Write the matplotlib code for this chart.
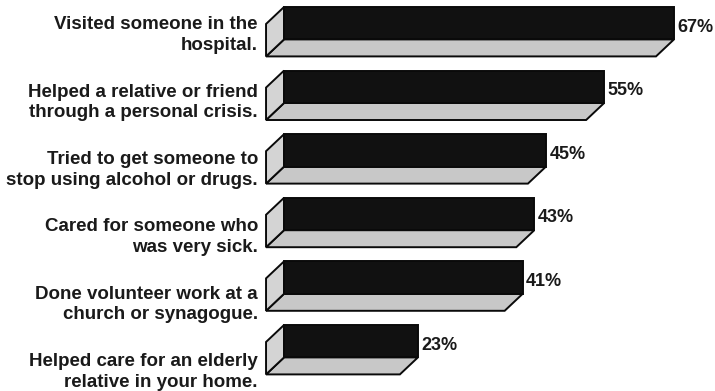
import matplotlib
matplotlib.use("Agg")
import matplotlib.pyplot as plt
from matplotlib.patches import Polygon

# --- data ---
categories = [
    "Visited someone in the\nhospital.",
    "Helped a relative or friend\nthrough a personal crisis.",
    "Tried to get someone to\nstop using alcohol or drugs.",
    "Cared for someone who\nwas very sick.",
    "Done volunteer work at a\nchurch or synagogue.",
    "Helped care for an elderly\nrelative in your home.",
]
values = [67, 55, 45, 43, 41, 23]
value_labels = ["67%", "55%", "45%", "43%", "41%", "23%"]

# --- styling ---
FRONT = "#111111"
FLOOR = "#c8c8c8"
SIDE = "#d4d4d4"
EDGE = "#0a0a0a"
LW = 1.4
FONT = ["Liberation Sans", "DejaVu Sans"]

bar_h = 0.51        # height of the dark face, in row units
depth_x = -3.09     # receding depth, in percent units
depth_y = 0.267     # receding depth, in row units
label_pitch = 1.058
label_off = 0.445

fig = plt.figure(figsize=(7.15, 3.91), dpi=100)
ax = fig.add_axes([0, 0, 1, 1])
ax.set_xlim(-48.8, 74.05)
ax.set_ylim(6.038, -0.110)
ax.axis("off")

for i, (cat, v, lab) in enumerate(zip(categories, values, value_labels)):
    top = i
    bot = i + bar_h
    # floor (bottom face)
    floor = Polygon([(0, bot), (v, bot), (v + depth_x, bot + depth_y),
                     (depth_x, bot + depth_y)], closed=True,
                    facecolor=FLOOR, edgecolor=EDGE, lw=LW, joinstyle="miter")
    ax.add_patch(floor)
    # side (left face)
    side = Polygon([(0, top), (0, bot), (depth_x, bot + depth_y),
                    (depth_x, top + depth_y)], closed=True,
                   facecolor=SIDE, edgecolor=EDGE, lw=LW, joinstyle="miter")
    ax.add_patch(side)
    # dark front face
    ax.bar(0, bar_h, width=v, bottom=top, align="edge", color=FRONT,
           edgecolor=EDGE, lw=LW, zorder=3)
    # value
    ax.text(v + 0.6, top + bar_h / 2 + 0.06, lab, ha="left", va="center",
            fontsize=13, fontweight="bold", family=FONT, color="#1a1a1a")
    # category label
    ax.text(depth_x - 1.4, label_off + i * label_pitch, cat, ha="right",
            va="center", fontsize=13.5, fontweight="bold", family=FONT,
            color="#1a1a1a", linespacing=1.28, multialignment="right")

fig.savefig("out.png", dpi=100, facecolor="white")
